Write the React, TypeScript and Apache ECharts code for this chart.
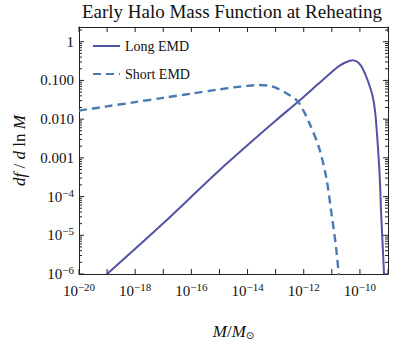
import React, { useEffect, useRef } from "react";
import * as echarts from "echarts";

// Long EMD: halo mass M/M_sun and df/dlnM
const longMass = [1e-19, 1e-17, 1e-15, 1e-13, 6.31e-13, 3.16e-12, 1e-11, 1.78e-11, 3.16e-11, 5.62e-11, 8.91e-11, 1.26e-10, 1.91e-10, 2.82e-10, 3.47e-10, 4.17e-10, 5.01e-10, 5.75e-10, 6.61e-10, 7.41e-10];
const longFrac = [1e-6, 2.04e-5, 4.79e-4, 9.12e-3, 2.82e-2, 7.94e-2, 0.166, 0.234, 0.295, 0.331, 0.288, 0.2, 0.098, 0.04, 0.0158, 3.16e-3, 3.98e-4, 3.16e-5, 3.98e-6, 6.3e-7];

// Short EMD
const shortMass = [1e-20, 1e-19, 1e-18, 1e-17, 1e-16, 1e-15, 3.16e-15, 1e-14, 2.51e-14, 6.31e-14, 1.26e-13, 2.51e-13, 6.31e-13, 1.58e-12, 3.55e-12, 6.31e-12, 1e-11, 1.41e-11, 1.82e-11];
const shortFrac = [0.0166, 0.0214, 0.0275, 0.0355, 0.0457, 0.0589, 0.0661, 0.0724, 0.0759, 0.0724, 0.0603, 0.0457, 0.0282, 7.94e-3, 1.78e-3, 3.16e-4, 3.16e-5, 5.01e-6, 7.94e-7];

// axis ranges and tick labels (exponents of 10)
const xExtent = [-20, -9];
const yExtent = [-6, 0.38];
const xTickExps = [-20, -19, -18, -17, -16, -15, -14, -13, -12, -11, -10, -9];
const xLabelExps = [-20, -18, -16, -14, -12, -10];
const yMajorExps = [-6, -5, -4, -3, -2, -1, 0];
const yDecimalLabels: Record<string, string> = { "0": "1", "-1": "0.100", "-2": "0.010", "-3": "0.001" };

const FONT = "'Liberation Serif', 'Times New Roman', serif";
const AXIS_COLOR = "#222";

function minorExps(): number[] {
  const out: number[] = [];
  for (let n = -6; n <= 0; n++) {
    for (let k = 2; k <= 9; k++) {
      const v = n + Math.log10(k);
      if (v < yExtent[1]) out.push(v);
    }
  }
  return out;
}

const supRich = {
  b: { fontSize: 15, fontFamily: FONT, color: "#111" },
  s: { fontSize: 11, fontFamily: FONT, color: "#111", padding: [0, 0, 8, 0] },
};

// kind: 0 = x decade tick, 1 = y major tick, 2 = y minor tick
function tickData(): number[][] {
  const d: number[][] = [];
  xTickExps.forEach((v) => d.push([0, v]));
  yMajorExps.forEach((v) => d.push([1, v]));
  minorExps().forEach((v) => d.push([2, v]));
  return d;
}

function renderTick(_params: any, api: any) {
  const kind = api.value(0);
  const v = api.value(1);
  const style = { stroke: AXIS_COLOR, lineWidth: 1 };
  if (kind === 0) {
    const b = api.coord([v, yExtent[0]]);
    const t = api.coord([v, yExtent[1]]);
    return {
      type: "group",
      children: [
        { type: "line", shape: { x1: b[0], y1: b[1], x2: b[0], y2: b[1] - 5 }, style },
        { type: "line", shape: { x1: t[0], y1: t[1], x2: t[0], y2: t[1] + 5 }, style },
      ],
    };
  }
  const len = kind === 1 ? 5 : 3;
  const l = api.coord([xExtent[0], v]);
  const r = api.coord([xExtent[1], v]);
  return {
    type: "group",
    children: [
      { type: "line", shape: { x1: l[0], y1: l[1], x2: l[0] + len, y2: l[1] }, style },
      { type: "line", shape: { x1: r[0], y1: r[1], x2: r[0] - len, y2: r[1] }, style },
    ],
  };
}

export default function App() {
  const ref = useRef<HTMLDivElement>(null);
  useEffect(() => {
    document.body.style.margin = "0";
    const chart = echarts.init(ref.current!, undefined, { renderer: "svg" });
    const line = { show: true, onZero: false, lineStyle: { color: AXIS_COLOR, width: 1 } };
    const baseY = {
      type: "value",
      min: yExtent[0],
      max: yExtent[1],
      interval: 1,
      splitLine: { show: false },
      axisTick: { show: false },
      axisLine: line,
    };
    const baseX = {
      type: "value",
      min: xExtent[0],
      max: xExtent[1],
      interval: 1,
      splitLine: { show: false },
      axisLine: line,
      axisTick: { show: false },
    };
    chart.setOption({
      animation: false,
      title: {
        text: "Early Halo Mass Function at Reheating",
        left: 232,
        top: 2,
        padding: 0,
        textAlign: "center",
        textStyle: { fontFamily: FONT, fontSize: 19, fontWeight: "normal", color: "#111" },
      },
      grid: { left: 79, right: 8, top: 27, bottom: 69, containLabel: false },
      legend: {
        orient: "vertical",
        left: 92,
        top: 39,
        padding: 0,
        itemWidth: 27,
        itemHeight: 10,
        itemGap: 14,
        data: ["Long EMD", "Short EMD"],
        itemStyle: { opacity: 0 },
        textStyle: { fontFamily: FONT, fontSize: 14, color: "#111" },
      },
      xAxis: [
        {
          ...baseX,
          position: "bottom",
          axisLabel: {
            customValues: xLabelExps,
            margin: 7,
            formatter: (v: number) => `{b|10}{s|−${Math.abs(v)}}`,
            rich: supRich,
          },
          name: "{i|M}{n|/}{i|M}{sub|⊙}",
          nameLocation: "middle",
          nameGap: 49,
          nameTextStyle: {
            rich: {
              i: { fontFamily: FONT, fontStyle: "italic", fontSize: 17, color: "#111" },
              n: { fontFamily: FONT, fontSize: 17, color: "#111" },
              sub: { fontFamily: "DejaVu Sans", fontSize: 10, color: "#111", padding: [7, 0, 0, 0] },
            },
          },
        },
        {
          ...baseX,
          position: "top",
          axisLabel: { show: false },
        },
      ],
      yAxis: [
        {
          ...baseY,
          position: "left",
          axisLabel: {
            customValues: yMajorExps,
            margin: 5,
            formatter: (v: number) => {
              const key = String(Math.round(v));
              if (yDecimalLabels[key]) return `{b|${yDecimalLabels[key]}}`;
              return `{b|10}{s|−${Math.abs(Math.round(v))}}`;
            },
            rich: supRich,
          },
          name: "{i|df}{n| / }{i|d}{n| ln }{i|M}",
          nameLocation: "middle",
          nameRotate: 90,
          nameGap: 51,
          nameTextStyle: {
            rich: {
              i: { fontFamily: FONT, fontStyle: "italic", fontSize: 17, color: "#111" },
              n: { fontFamily: FONT, fontSize: 17, color: "#111" },
            },
          },
        },
        {
          ...baseY,
          position: "right",
          axisLabel: { show: false },
        },
      ],
      series: [
        {
          name: "ticks",
          type: "custom",
          xAxisIndex: 0,
          yAxisIndex: 0,
          silent: true,
          clip: false,
          renderItem: renderTick,
          data: tickData(),
          encode: { x: 1, y: 1 },
          z: 5,
        },
        {
          name: "Long EMD",
          type: "line",
          xAxisIndex: 0,
          yAxisIndex: 0,
          symbol: "none",
          smooth: 0.3,
          clip: true,
          lineStyle: { color: "#5252a6", width: 2 },
          itemStyle: { color: "#5252a6" },
          data: longMass.map((m, i) => [Math.log10(m), Math.log10(longFrac[i])]),
        },
        {
          name: "Short EMD",
          type: "line",
          xAxisIndex: 0,
          yAxisIndex: 0,
          symbol: "none",
          smooth: 0.3,
          clip: true,
          lineStyle: { color: "#4a7ab0", width: 2.4, type: [8, 5] },
          itemStyle: { color: "#4a7ab0" },
          data: shortMass.map((m, i) => [Math.log10(m), Math.log10(shortFrac[i])]),
        },
      ],
    });
    return () => chart.dispose();
  }, []);
  return <div ref={ref} style={{ width: 396, height: 345 }} />;
}
